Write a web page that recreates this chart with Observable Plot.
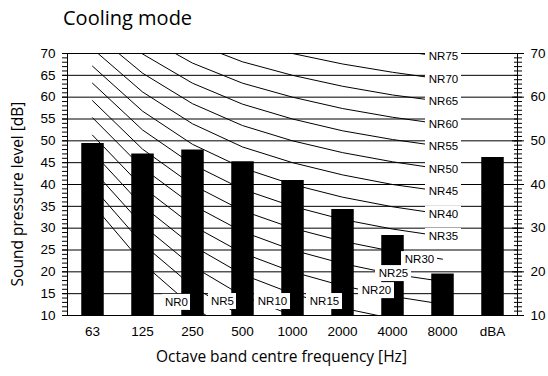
<!DOCTYPE html>
<html><head><meta charset="utf-8">
<script src="https://cdn.jsdelivr.net/npm/d3@7"></script>
<script src="https://cdn.jsdelivr.net/npm/@observablehq/plot@0.6"></script>
<style>
body{margin:0;background:#fff;}
#title{font-family:"Open Sans",sans-serif;font-size:20px;line-height:36px;height:40px;padding-left:63px;color:#000;box-sizing:border-box;}
</style></head><body>
<div id="title">Cooling mode</div>
<div id="chart"></div>
<script>
// Categories (octave bands + overall dBA)
const bands = ["63","125","250","500","1000","2000","4000","8000","dBA"];
// Measured sound pressure levels [dB]
const levels = [49.4, 47.0, 47.9, 45.2, 40.9, 34.3, 28.3, 19.5, 46.2];

// NR reference curves, values at 63 ... 8000 Hz
const nrNames = ["NR0","NR5","NR10","NR15","NR20","NR25","NR30","NR35","NR40","NR45","NR50","NR55","NR60","NR65","NR70","NR75"];
const nrValues = [
  [35.5, 22.0, 12.0,  4.8,  0.0, -3.5, -6.1, -8.0],
  [39.5, 26.4, 16.7,  9.7,  5.0,  1.6, -1.0, -2.9],
  [43.4, 30.7, 21.3, 14.5, 10.0,  6.7,  4.2,  2.3],
  [47.4, 35.1, 26.0, 19.4, 15.0, 11.7,  9.3,  7.5],
  [51.3, 39.4, 30.6, 24.3, 20.0, 16.8, 14.4, 12.6],
  [55.3, 43.8, 35.3, 29.2, 25.0, 21.9, 19.5, 17.8],
  [59.2, 48.1, 39.9, 34.0, 30.0, 27.0, 24.7, 22.9],
  [63.2, 52.5, 44.6, 38.9, 35.0, 32.0, 29.8, 28.1],
  [67.1, 56.8, 49.2, 43.8, 40.0, 37.1, 34.9, 33.2],
  [71.1, 61.2, 53.9, 48.6, 45.0, 42.2, 40.0, 38.4],
  [75.0, 65.5, 58.5, 53.5, 50.0, 47.3, 45.2, 43.5],
  [79.0, 69.9, 63.2, 58.4, 55.0, 52.3, 50.3, 48.7],
  [82.9, 74.2, 67.8, 63.2, 60.0, 57.4, 55.4, 53.8],
  [86.9, 78.6, 72.5, 68.1, 65.0, 62.5, 60.5, 59.0],
  [90.8, 82.9, 77.1, 73.0, 70.0, 67.6, 65.7, 64.1],
  [94.8, 87.3, 81.8, 77.9, 75.0, 72.6, 70.8, 69.3]
];
// Where each NR label sits (band index, dB)
const labelPosX = [1.68, 2.6, 3.6, 4.64, 5.68, 6.02, 6.54, 7.02, 7.02, 7.02, 7.02, 7.02, 7.02, 7.02, 7.02, 7.02];
const labelPosY = [13.0, 13.2, 13.2, 13.2, 15.7, 19.6, 22.8, 28.1, 33.2, 38.4, 43.5, 48.7, 53.8, 59.0, 64.1, 69.3];

const yTicksLeft = d3.range(10, 71, 5);
const yTicksRight = d3.range(10, 71, 10);
const yMinor = d3.range(10, 71, 1);
const yMin = 10, yMax = 70;

const barData = bands.map((b, i) => ({i, band: b, v: levels[i]}));
const lineData = nrValues.flatMap((vals, k) => vals.map((v, i) => ({curve: nrNames[k], i, v})));
const labelData = nrNames.map((n, k) => ({name: n, x: labelPosX[k], y: labelPosY[k]}));

const tickFont = "'Liberation Sans', Arial, sans-serif";
const titleFont = "'Open Sans', sans-serif";

const chart = Plot.plot({
  width: 548,
  height: 336,
  marginLeft: 67,
  marginRight: 31,
  marginTop: 13,
  marginBottom: 61,
  style: {fontFamily: tickFont, background: "white", color: "black", overflow: "visible"},
  x: {type: "linear", domain: [-0.5, bands.length - 0.5], label: null},
  y: {domain: [yMin, yMax], label: null},
  marks: [
    Plot.gridY(yTicksLeft, {stroke: "black", strokeOpacity: 1, strokeWidth: 1}),
    Plot.line(lineData, {x: "i", y: "v", z: "curve", stroke: "black", strokeWidth: 1, clip: true}),
    Plot.ruleX(barData, {x: "i", y1: yMin, y2: "v", stroke: "black", strokeWidth: 22.5}),
    Plot.frame({stroke: "black"}),
    // left axis
    Plot.axisY(yMinor, {anchor: "left", tickSize: 5, fill: "none", label: null}),
    Plot.axisY(yTicksLeft, {anchor: "left", tickSize: 5, tickPadding: 7, fontSize: 13.5, label: null}),
    // right axis (cross ticks)
    Plot.axisY(yMinor, {anchor: "right", tickSize: 4, fill: "none", label: null}),
    Plot.axisY(yMinor, {anchor: "right", tickSize: 4, dx: -4, fill: "none", label: null}),
    Plot.axisY(yTicksRight, {anchor: "right", tickSize: 6, dx: -6, fill: "none", label: null}),
    Plot.axisY(yTicksRight, {anchor: "right", tickSize: 6, tickPadding: 7, fontSize: 13.5, label: null}),
    // bottom axis labels
    Plot.axisX(d3.range(bands.length), {anchor: "bottom", tickSize: 0, tickPadding: 11, fontSize: 13.5, tickFormat: (d) => bands[d], label: null}),
    // NR label boxes and text
    Plot.rect(labelData.filter(d => d.name.length === 3), {x1: "x", x2: "x", y1: "y", y2: "y", fill: "white", insetLeft: -14, insetRight: -14, insetTop: -8, insetBottom: -8}),
    Plot.rect(labelData.filter(d => d.name.length === 4), {x1: "x", x2: "x", y1: "y", y2: "y", fill: "white", insetLeft: -18, insetRight: -18, insetTop: -8, insetBottom: -8}),
    Plot.text(labelData, {x: "x", y: "y", text: "name", fontSize: 11.5, fill: "black", fontFamily: tickFont}),
    // axis titles
    Plot.text(["Octave band centre frequency [Hz]"], {frameAnchor: "bottom", textAnchor: "middle", lineAnchor: "middle", dx: -11, dy: 42, fontSize: 15.5, fontFamily: titleFont, fill: "black"}),
    Plot.text(["Sound pressure level [dB]"], {frameAnchor: "left", textAnchor: "middle", lineAnchor: "middle", rotate: -90, dx: -49, dy: 9.5, fontSize: 15.5, fontFamily: titleFont, fill: "black"})
  ]
});
document.getElementById("chart").appendChild(chart);
</script>
</body></html>
